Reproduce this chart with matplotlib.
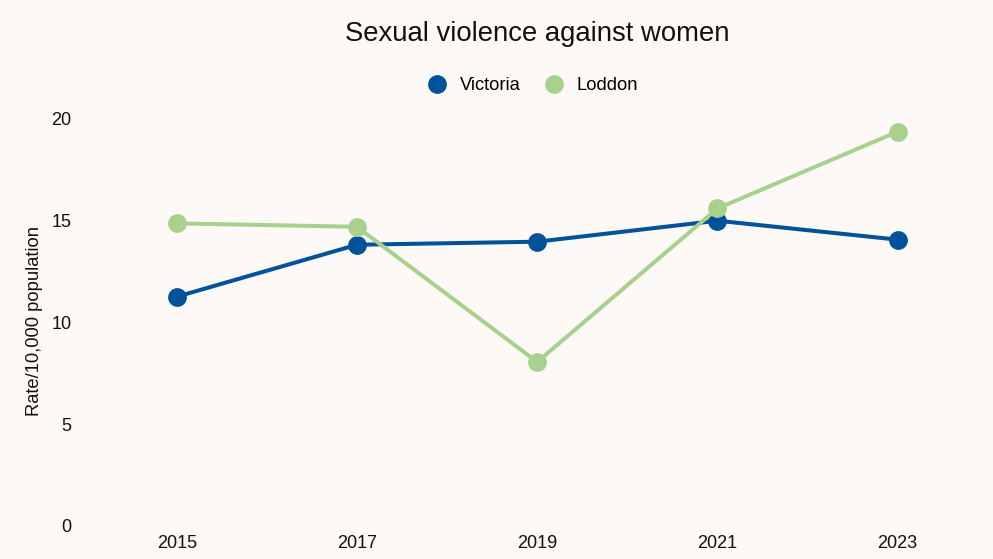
import matplotlib
matplotlib.use("Agg")
import matplotlib.pyplot as plt
from matplotlib.lines import Line2D

years = ["2015", "2017", "2019", "2021", "2023"]
victoria = [11.25, 13.8, 13.95, 14.98, 14.05]
loddon = [14.85, 14.68, 8.05, 15.58, 19.35]
yticks = [0, 5, 10, 15, 20]

c_vic = "#00529B"
c_lod = "#A9D18E"
bg = "#FCF9F6"

plt.rcParams['font.family'] = ['Liberation Sans', 'DejaVu Sans']

fig = plt.figure(figsize=(9.93, 5.59), dpi=100, facecolor=bg)
W, H = 993, 559
x0, x1 = 86.6, 987.8
ytop, ybot = 98.0, 526.0
ax = fig.add_axes([x0 / W, 1 - ybot / H, (x1 - x0) / W, (ybot - ytop) / H])
ax.set_facecolor(bg)

xs = list(range(len(years)))
ax.plot(xs, victoria, color=c_vic, lw=2.9, marker='o', ms=12.5, zorder=3)
ax.plot(xs, loddon, color=c_lod, lw=2.9, marker='o', ms=12.5, zorder=4)

ax.set_xlim(-0.5, len(years) - 0.5)
ax.set_ylim(0, (ybot - ytop) / 20.38)
ax.set_xticks(xs)
ax.set_xticklabels(years)
ax.set_yticks(yticks)
ax.tick_params(axis='both', length=0, labelsize=13, colors='#111111')
ax.tick_params(axis='y', pad=11)
ax.tick_params(axis='x', pad=6.5)
for s in ax.spines.values():
    s.set_visible(False)

ax.set_ylabel("Rate/10,000 population", fontsize=13.2, color='#111111', labelpad=6, y=0.478)

fig.text(537 / W, 1 - 34 / H, "Sexual violence against women", ha='center', va='center',
         fontsize=19.8, color='#111111')

handles = [Line2D([], [], color=c_vic, marker='o', ls='none', ms=12.5),
           Line2D([], [], color=c_lod, marker='o', ls='none', ms=12.5)]
fig.legend(handles, ["Victoria", "Loddon"], loc='center', bbox_to_anchor=(533 / W, 1 - 86 / H),
           ncol=2, frameon=False, fontsize=13.2, handletextpad=0.75, columnspacing=1.3,
           handlelength=1.0)

fig.savefig("out.png", dpi=100, facecolor=bg)
